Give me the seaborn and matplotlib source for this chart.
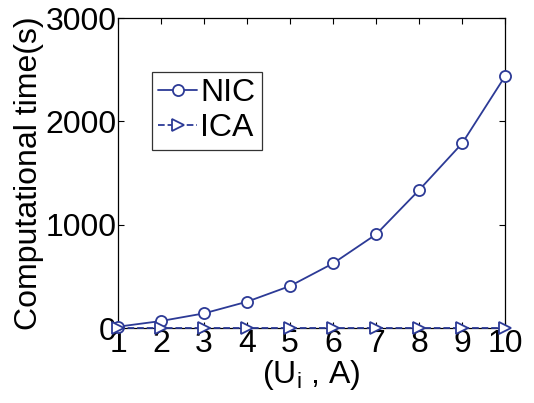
import pandas as pd
import numpy as np
import matplotlib
matplotlib.use('Agg')
import matplotlib.pyplot as plt
import seaborn as sns

# values
sizes = [1, 2, 3, 4, 5, 6, 7, 8, 9, 10]
nic_time = [13, 68, 142, 255, 407, 626, 907, 1336, 1788, 2439]
ica_time = [1, 1, 1, 1, 1, 1, 1, 1, 1, 1]

sns.set_style('ticks', {'text.color': 'black', 'axes.labelcolor': 'black',
                        'xtick.color': 'black', 'ytick.color': 'black',
                        'axes.edgecolor': 'black'})
plt.rcParams['font.family'] = ['Liberation Sans', 'DejaVu Sans']
plt.rcParams['mathtext.fontset'] = 'custom'
plt.rcParams['mathtext.rm'] = 'Liberation Sans'

blue = '#2c3a96'
fs = 23

fig, ax = plt.subplots(figsize=(5.34, 4.03), dpi=100)

sns.lineplot(x=sizes, y=nic_time, ax=ax, color=blue, marker='o', markersize=8,
             markerfacecolor='white', markeredgecolor=blue, markeredgewidth=1.3,
             linewidth=1.3, label='NIC', clip_on=False, zorder=5)
sns.lineplot(x=sizes, y=ica_time, ax=ax, color=blue, marker='>', markersize=9,
             markerfacecolor='white', markeredgecolor=blue, markeredgewidth=1.3,
             linewidth=1.3, linestyle='--', label='ICA', clip_on=False, zorder=5)

ax.set_xlim(1, 10)
ax.set_ylim(0, 3000)
ax.set_xticks(sizes)
ax.set_yticks([0, 1000, 2000, 3000])
ax.tick_params(direction='in', top=True, right=True, labelsize=fs, length=4,
               width=0.8, pad=1)
for s in ax.spines.values():
    s.set_visible(True)
    s.set_linewidth(0.9)
    s.set_color('black')

ax.set_xlabel(r'(U$_\mathrm{i}$ , A)', fontsize=fs, labelpad=-1)
ax.set_ylabel('Computational time(s)', fontsize=fs, labelpad=1)

leg = ax.legend(loc='upper left', bbox_to_anchor=(0.088, 0.826), fontsize=fs,
                frameon=True, fancybox=False, edgecolor='black', handlelength=1.2,
                handletextpad=0.1, borderpad=0.2, labelspacing=0.15,
                borderaxespad=0)
leg.get_frame().set_linewidth(0.9)

fig.subplots_adjust(left=0.221, right=0.946, top=0.955, bottom=0.186)
fig.savefig('out.png', dpi=100)
